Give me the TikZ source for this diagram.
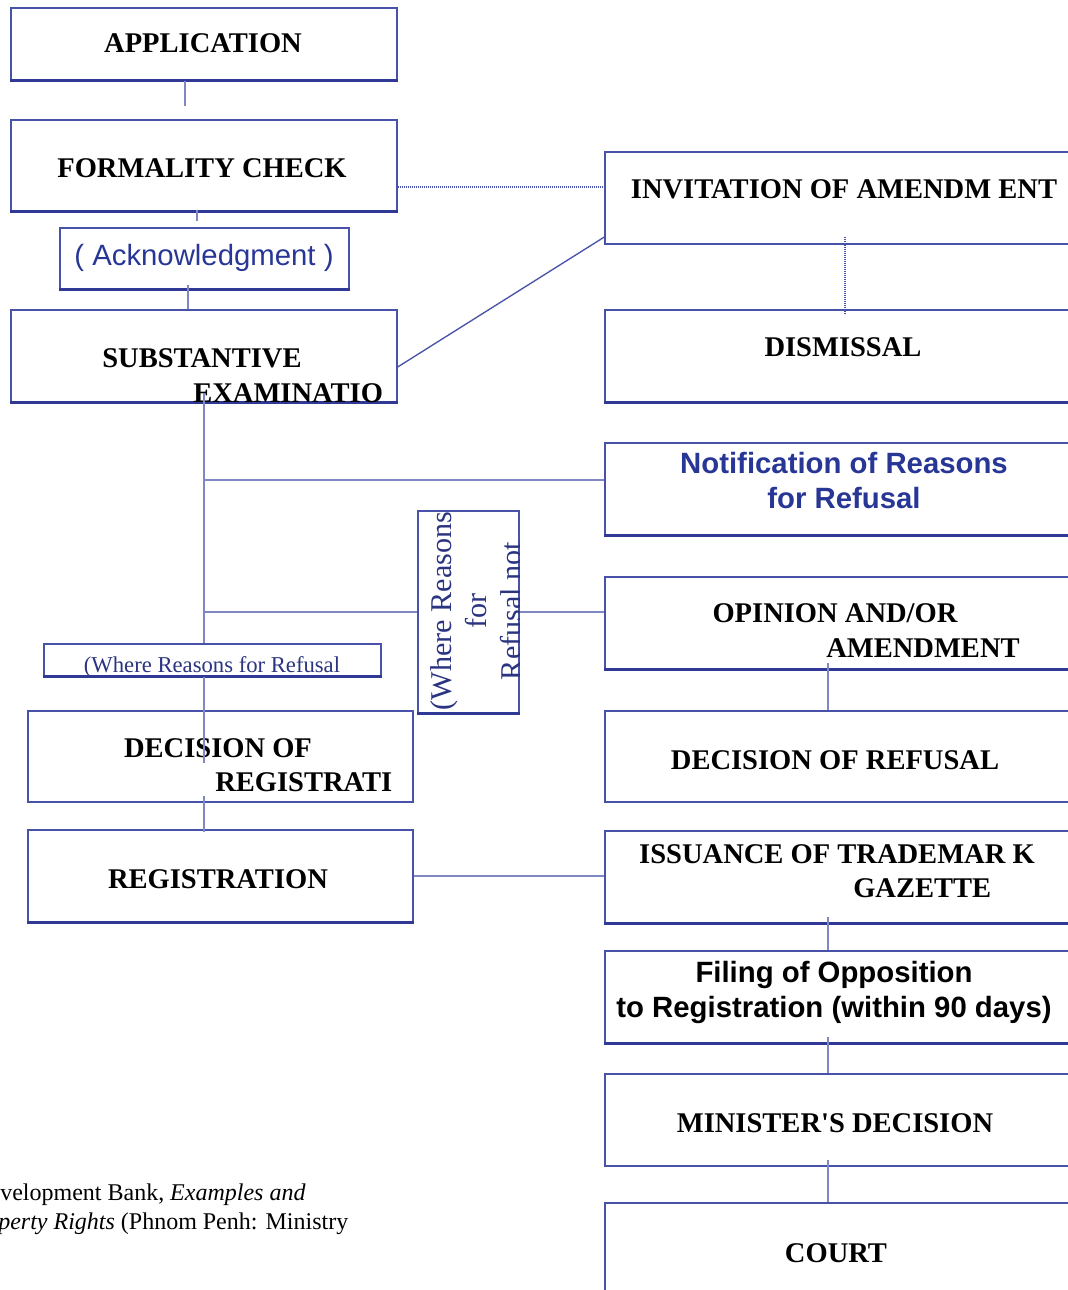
\documentclass[tikz,border=0pt]{standalone}
\usepackage{fontspec}
\setmainfont{Liberation Serif}
\newfontfamily\arialfont{Liberation Sans}
\usetikzlibrary{fit}
\definecolor{boxline}{RGB}{72,82,168}
\definecolor{boxdark}{RGB}{48,58,150}
\definecolor{linkblue}{RGB}{128,136,196}
\definecolor{textblue}{RGB}{40,54,150}
\definecolor{notenavy}{RGB}{42,52,128}
\tikzset{
  box/.style={draw=boxline, line width=1pt, inner sep=0pt},
  boxbottom/.style={draw=boxdark, line width=2pt},
  link/.style={draw=linkblue, line width=1pt},
  dotlink/.style={draw=boxline, line width=0.8pt, dash pattern=on 0.9pt off 0.6pt},
  capt/.style={font=\fontsize{21.4}{26}\selectfont\bfseries, inner sep=0pt, anchor=base},
  sanscapt/.style={font=\arialfont\fontsize{22}{26}\selectfont\bfseries, inner sep=0pt, anchor=base},
}
\begin{document}
\begin{tikzpicture}[x=0.75pt, y=-0.75pt]
    \clip (0,0) rectangle (1068,1290);
    % left column
    \node[box, fit={(11,8) (397,80)}] (app) {};
    \node[box, fit={(11,120) (397,211)}] (form) {};
    \node[box, fit={(60,228) (349,289)}] (ack) {};
    \node[box, fit={(11,310) (397,402)}] (subst) {};
    \node[box, fill=white, fit={(44,644) (381,676)}] (where1) {};
    \node[box, fit={(418,511) (519,713)}] (where2) {};
    \node[box, fit={(28,711) (413,802)}] (decreg) {};
    \node[box, fit={(28,830) (413,922)}] (reg) {};
    % right column
    \node[box, fit={(605,152) (1075,244)}] (inv) {};
    \node[box, fit={(605,310) (1075,402)}] (dis) {};
    \node[box, fit={(605,443) (1075,535)}] (note) {};
    \node[box, fit={(605,577) (1075,669)}] (opin) {};
    \node[box, fit={(605,711) (1075,802)}] (decref) {};
    \node[box, fit={(605,831) (1075,923)}] (issu) {};
    \node[box, fit={(605,951) (1075,1043)}] (filing) {};
    \node[box, fit={(605,1074) (1075,1166)}] (minis) {};
    \node[box, fit={(605,1203) (1075,1310)}] (court) {};
    \foreach \n in {app,form,ack,subst,where1,where2,reg,dis,note,opin,issu,filing}
        \draw[boxbottom] (\n.south west) -- (\n.south east);

    % texts
    \node[capt] (app-t) at (203,52) {APPLICATION};
    \node[capt] (form-t) at (202,177) {FORMALITY CHECK};
    \node[font=\arialfont\fontsize{22}{26}\selectfont, text=textblue, inner sep=0pt, anchor=base] (ack-t) at (204,265) {( Acknowledgment )};
    \node[capt] (subst-t) at (202,367) {SUBSTANTIVE};
    \begin{scope}
        \clip (subst.south west) rectangle (subst.north east);
        \node[capt, anchor=base west] (subst-t2) at (193,402) {EXAMINATIO};
    \end{scope}
    \node[font=\fontsize{17}{20}\selectfont, text=notenavy, inner sep=0pt, anchor=base] (where1-t) at (212,672) {(Where Reasons for Refusal};
    \begin{scope}
        \clip (where2.south west) rectangle (where2.north east);
        \node[font=\fontsize{22.6}{26.25}\selectfont, text=notenavy, rotate=90, align=center, inner sep=0pt] (where2-t) at (476,611) {(Where Reasons\\for\\Refusal not};
    \end{scope}
    \node[capt] (decreg-t) at (218,757) {DECISION OF};
    \node[capt, anchor=base west] (decreg-t2) at (215,791) {REGISTRATI};
    \node[capt] (reg-t) at (218,888) {REGISTRATION};
    \node[capt] (inv-t) at (844,198) {INVITATION OF AMENDM ENT};
    \node[capt] (dis-t) at (843,356) {DISMISSAL};
    \node[sanscapt, text=textblue] (note-t) at (844,473) {Notification of Reasons};
    \node[sanscapt, text=textblue] (note-t2) at (844,508) {for Refusal};
    \node[capt] (opin-t) at (835,622) {OPINION AND/OR};
    \node[capt, anchor=base west] (opin-t2) at (826,657) {AMENDMENT};
    \node[capt] (decref-t) at (835,769) {DECISION OF REFUSAL};
    \node[capt] (issu-t) at (837,863) {ISSUANCE OF TRADEMAR K};
    \node[capt, anchor=base west] (issu-t2) at (853,897) {GAZETTE};
    \node[sanscapt] (filing-t) at (834,982) {Filing of Opposition};
    \node[sanscapt] (filing-t2) at (834,1017) {to Registration (within 90 days)};
    \node[capt] (minis-t) at (835,1132) {MINISTER\textquotesingle S DECISION};
    \node[capt] (court-t) at (836,1262) {COURT};

    % connectors
    \coordinate (fork1) at (204,480);
    \coordinate (fork2) at (204,612);
    \coordinate (trunkend) at (204,763);
    \draw[link, shorten >=9.75pt] (app.south -| 185,0) -- (form.north -| 185,0);
    \draw[link, shorten >=4.5pt, shorten <=-1.5pt] (form.south -| 197,0) -- (ack.north -| 197,0);
    \draw[link, shorten <=-3.75pt] (ack.south -| 188,0) -- (subst.north -| 188,0);
    \draw[dotlink] (form.east |- 0,187) -- (inv.west |- 0,187);
    \draw[draw=boxline, line width=1pt] (subst.east |- 0,367) -- (inv.west |- 0,237);
    \draw[dotlink, shorten <=-6pt, shorten >=-4pt] (inv.south -| 845,0) -- (dis.north -| 845,0);
    \draw[link, shorten <=-7pt] (subst.south -| 204,0) -- (where1.north -| 204,0);
    \draw[link] (where1.south -| 204,0) -- (trunkend);
    \draw[link] (fork1) -- (note.west |- fork1);
    \draw[link] (fork2) -- (where2.west |- fork2);
    \draw[link] (where2.east |- fork2) -- (opin.west |- fork2);
    \draw[link, shorten <=-5pt, shorten >=-2pt] (decreg.south -| 204,0) -- (reg.north -| 204,0);
    \draw[link] (reg.east) -- (issu.west |- reg.east);
    \foreach \a/\b in {opin/decref, issu/filing, filing/minis, minis/court}
        \draw[link, shorten <=-5pt] (\a.south -| 828,0) -- (\b.north -| 828,0);

    % source note
    \node[anchor=base west, font=\fontsize{18}{21.75}\selectfont, inner sep=0pt] (src1) at (0,1200) {velopment Bank, \textit{Examples and}};
    \node[anchor=base west, font=\fontsize{18}{21.75}\selectfont, inner sep=0pt] (src2) at (-2,1229) {\textit{perty Rights} (Phnom Penh: Ministry};
\end{tikzpicture}
\end{document}
